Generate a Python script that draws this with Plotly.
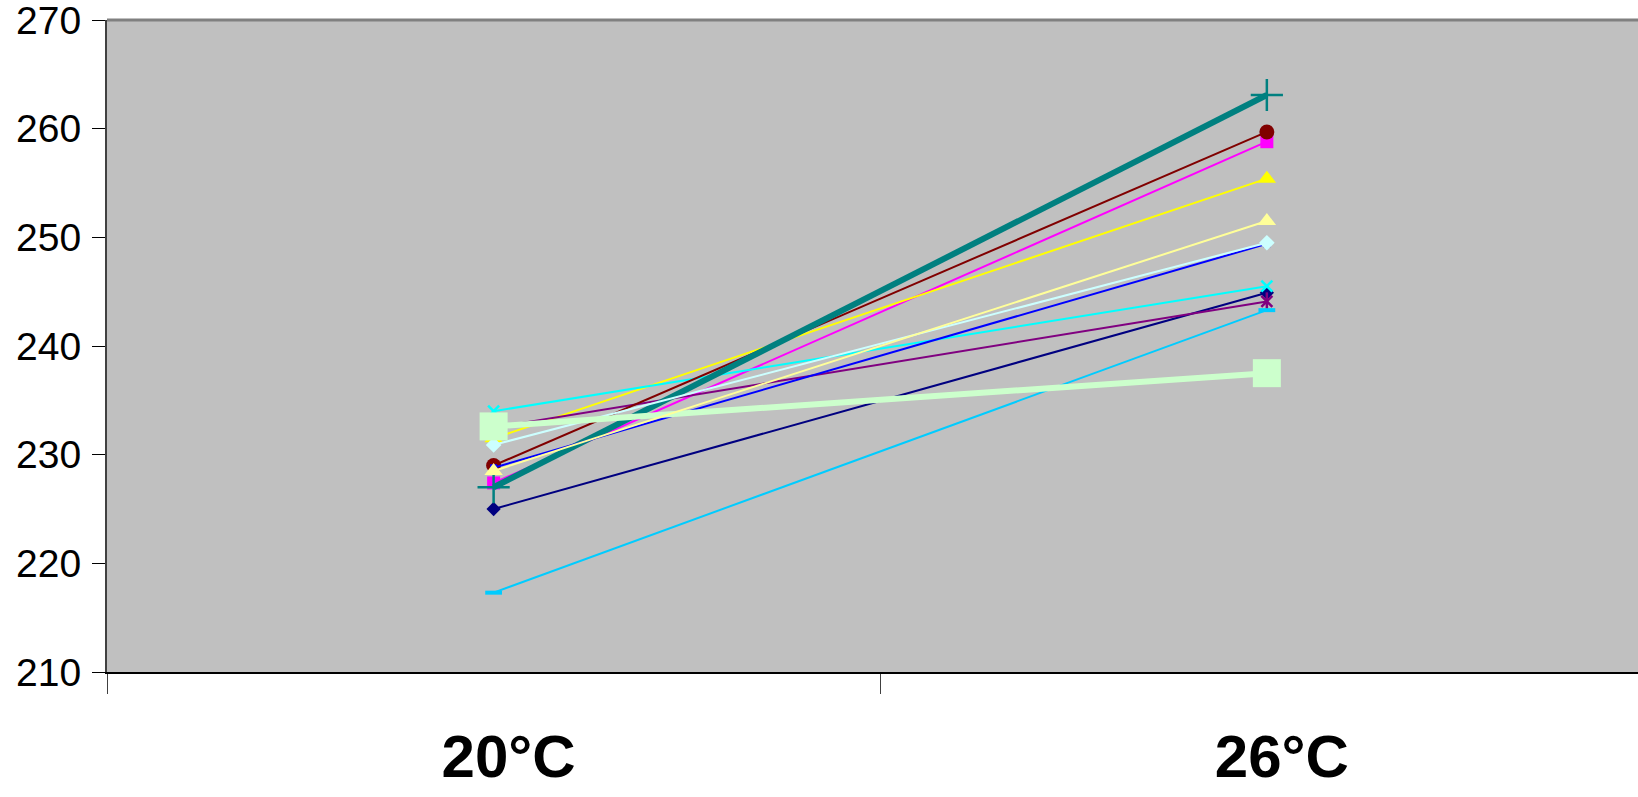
import plotly.graph_objects as go

# Temperature categories on the x axis
categories = ["20°C", "26°C"]

# One series per sample: value at 20°C and at 26°C
navy = [225.0, 244.9]
magenta = [227.4, 258.8]
yellow = [231.5, 255.4]
cyan = [234.0, 245.5]
purple = [232.5, 244.1]
maroon = [229.0, 259.7]
teal = [227.0, 263.1]
blue = [228.8, 249.4]
skyblue = [217.3, 243.3]
lightcyan = [230.9, 249.5]
lightgreen = [232.6, 237.5]
lightyellow = [228.5, 251.5]

y_ticks = [210, 220, 230, 240, 250, 260, 270]

series = [
    # (name, values, colour, line width, marker symbol, marker size, marker line width)
    ("Series 1", navy, "#000080", 2, "diamond", 11, 0),
    ("Series 2", magenta, "#FF00FF", 2, "square", 13, 0),
    ("Series 3", yellow, "#FFFF00", 2, "triangle-up", 16, 0),
    ("Series 4", cyan, "#00FFFF", 2, "x-thin", 11, 2.5),
    ("Series 5", purple, "#800080", 2, "x-thin", 11, 2.5),
    ("Series 6", maroon, "#800000", 2, "circle", 15, 0),
    ("Series 7", teal, "#008080", 6, "cross-thin", 23, 2.5),
    ("Series 8", blue, "#0000FF", 2, "square", 7, 0),
    ("Series 9", skyblue, "#00CCFF", 2, "line-ew", 12, 4),
    ("Series 10", lightcyan, "#CCFFFF", 2, "diamond", 12, 0),
    ("Series 11", lightgreen, "#CCFFCC", 6, "square", 28, 0),
    ("Series 12", lightyellow, "#FFFF99", 2, "triangle-up", 16, 0),
]

fig = go.Figure()
for name, vals, color, lw, sym, size, mlw in series:
    fig.add_trace(go.Scatter(
        x=categories, y=vals, name=name, mode="lines+markers",
        line=dict(color=color, width=lw),
        marker=dict(symbol=sym, size=size, color=color,
                    line=dict(color=color, width=mlw)),
        showlegend=False, hoverinfo="skip",
    ))
    if name == "Series 5":
        # vertical stroke completing the star marker
        fig.add_trace(go.Scatter(
            x=categories, y=vals, mode="markers",
            marker=dict(symbol="line-ns", size=13, color=color,
                        line=dict(color=color, width=2.5)),
            showlegend=False, hoverinfo="skip",
        ))

fig.update_layout(
    width=1638, height=797,
    margin=dict(l=107, r=0, t=20, b=125),
    paper_bgcolor="white",
    plot_bgcolor="#C0C0C0",
    font=dict(family="Liberation Sans, Arial, sans-serif", color="black"),
    xaxis=dict(
        type="category", range=[-0.5, 1.48], automargin=False,
        tickson="boundaries", ticks="outside", ticklen=20, tickwidth=1,
        tickcolor="#404040",
        showgrid=False, zeroline=False,
        showline=True, linecolor="black", linewidth=2,
        tickfont=dict(size=60, family="Liberation Sans, Arial, sans-serif"),
        ticklabelshift=15, ticklabelstandoff=31, ticklabeloverflow="allow",
    ),
    yaxis=dict(
        range=[210, 270], tickvals=y_ticks, automargin=False,
        ticks="outside", ticklen=13, tickwidth=1, tickcolor="black",
        showgrid=False, zeroline=False,
        showline=True, linecolor="#404040", linewidth=2,
        tickfont=dict(size=39),
        ticklabelstandoff=3, ticklabeloverflow="allow",
    ),
    shapes=[dict(type="line", xref="paper", yref="paper", x0=0, x1=1, y0=1, y1=1,
                 line=dict(color="#808080", width=3))],
)

fig.for_each_xaxis(lambda ax: ax.update(
    tickvals=categories,
    ticktext=["<b>20°C</b>", "<b>26°C</b>"],
))

fig.write_html("out.html")
